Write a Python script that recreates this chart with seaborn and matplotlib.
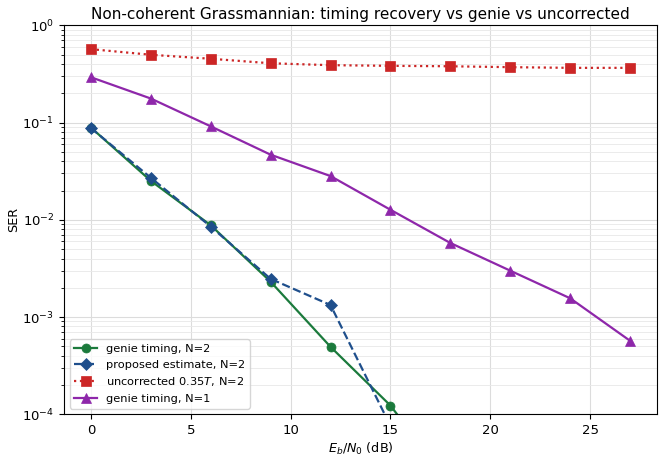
import numpy as np
import pandas as pd
import matplotlib
matplotlib.use("Agg")
import matplotlib.pyplot as plt
import seaborn as sns

ebn0_genie2 = [0, 3, 6, 9, 12, 15, 18]
ser_genie2 = [0.089, 0.0252, 0.0088, 0.00231, 0.000494, 0.000123, 1.9e-5]

ebn0_prop2 = [0, 3, 6, 9, 12, 15]
ser_prop2 = [0.088, 0.0271, 0.00853, 0.00247, 0.00133, 7.6e-5]

ebn0_unc2 = [0, 3, 6, 9, 12, 15, 18, 21, 24, 27]
ser_unc2 = [0.570, 0.499, 0.454, 0.408, 0.390, 0.384, 0.380, 0.372, 0.366, 0.366]

ebn0_genie1 = [0, 3, 6, 9, 12, 15, 18, 21, 24, 27]
ser_genie1 = [0.293, 0.177, 0.0916, 0.0468, 0.0282, 0.0127, 0.00578, 0.0030, 0.00156, 0.00057]

labels = ["genie timing, N=2", "proposed estimate, N=2",
          "uncorrected 0.35$T$, N=2", "genie timing, N=1"]
colors = ["#1b7a3c", "#1f4f8c", "#cc2626", "#8e27aa"]
markers = ["o", "D", "s", "^"]
linestyles = ["-", "--", ":", "-"]

series = [(ebn0_genie2, ser_genie2), (ebn0_prop2, ser_prop2),
          (ebn0_unc2, ser_unc2), (ebn0_genie1, ser_genie1)]

fig = plt.figure(figsize=(6.59, 4.58), dpi=100)
ax = fig.add_axes([0.097, 0.0955, 0.9, 0.849])

for (x, y), lab, c, m, ls in zip(series, labels, colors, markers, linestyles):
    df = pd.DataFrame({"x": x, "y": y})
    sns.lineplot(data=df, x="x", y="y", ax=ax, color=c, marker=m, linestyle=ls,
                 markersize=6.5, markeredgewidth=0.5, markeredgecolor=c,
                 linewidth=1.6, label=lab)

ax.set_yscale("log")
ax.set_ylim(1e-4, 1)
ax.set_xlim(-1.35, 28.35)
ax.grid(True, which="major", color="#dcdcdc", linewidth=0.8)
ax.grid(True, which="minor", color="#e8e8e8", linewidth=0.6)
ax.set_axisbelow(True)
ax.tick_params(labelsize=9.5)
ax.set_xlabel("$E_b/N_0$ (dB)", fontsize=9.2, labelpad=2.5)
ax.set_ylabel("SER", fontsize=9.2, labelpad=1.5)
ax.set_title("Non-coherent Grassmannian: timing recovery vs genie vs uncorrected",
             fontsize=11, pad=4.5)
ax.legend(loc="lower left", fontsize=8.2, framealpha=0.8)
fig.savefig("out.png", dpi=100)
